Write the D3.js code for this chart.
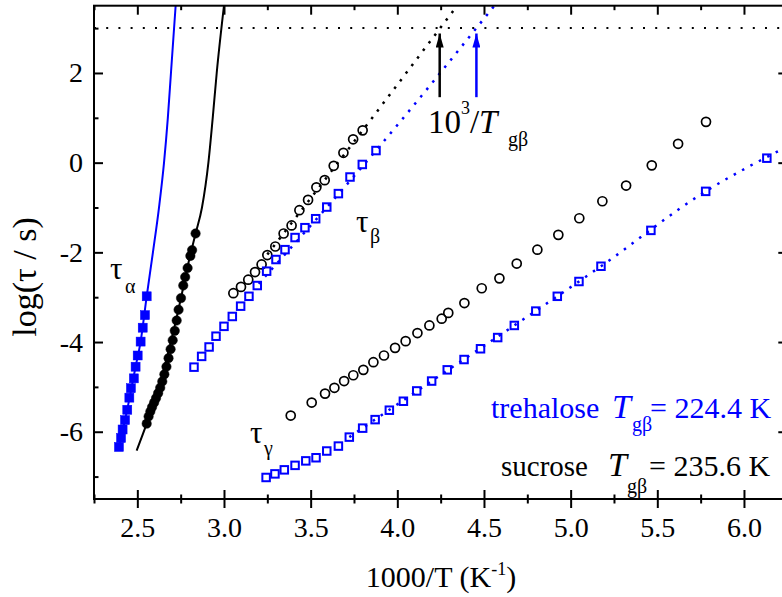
<!DOCTYPE html>
<html>
<head>
<meta charset="utf-8">
<script src="https://cdn.jsdelivr.net/npm/d3@7"></script>
<style>
  body { margin: 0; background: #fff; }
  svg { display: block; }
  text { font-family: "Liberation Serif", "Times New Roman", serif; }
</style>
</head>
<body>
<div id="chart"></div>
<script>
// values: x = 1000/T (K^-1), y = log(tau / s)
var sucAlphaX = [2.836, 2.816, 2.806, 2.790, 2.776, 2.765, 2.752, 2.738, 2.727, 2.716, 2.704, 2.692, 2.680, 2.668, 2.656, 2.644, 2.632, 2.620, 2.608, 2.597, 2.585, 2.575, 2.565, 2.554];
var sucAlphaY = [-1.58, -1.95, -2.08, -2.35, -2.55, -2.74, -3.02, -3.28, -3.52, -3.75, -3.96, -4.16, -4.36, -4.55, -4.72, -4.88, -5.02, -5.14, -5.25, -5.35, -5.45, -5.55, -5.66, -5.82];
var treAlphaX = [2.554, 2.544, 2.531, 2.519, 2.502, 2.490, 2.480, 2.463, 2.454, 2.442, 2.429, 2.415, 2.406, 2.394];
var treAlphaY = [-2.98, -3.40, -3.68, -3.99, -4.30, -4.55, -4.81, -5.03, -5.24, -5.51, -5.74, -5.95, -6.14, -6.34];

var sucBetaX = [3.054, 3.098, 3.140, 3.179, 3.217, 3.250, 3.296, 3.344, 3.390, 3.435, 3.485, 3.533, 3.581, 3.633, 3.689, 3.745, 3.800];
var sucBetaY = [-2.91, -2.77, -2.61, -2.44, -2.27, -2.06, -1.87, -1.58, -1.40, -1.06, -0.83, -0.55, -0.39, -0.07, 0.22, 0.52, 0.72];
var treBetaX = [2.827, 2.871, 2.914, 2.954, 3.000, 3.048, 3.096, 3.144, 3.192, 3.246, 3.300, 3.352, 3.410, 3.467, 3.529, 3.593, 3.660, 3.727, 3.798, 3.877];
var treBetaY = [-4.56, -4.32, -4.11, -3.87, -3.65, -3.43, -3.20, -2.98, -2.74, -2.42, -2.16, -1.94, -1.67, -1.45, -1.25, -0.99, -0.69, -0.32, -0.04, 0.27];

var sucGammaX = [3.385, 3.506, 3.583, 3.637, 3.693, 3.746, 3.804, 3.862, 3.923, 3.987, 4.048, 4.116, 4.185, 4.256, 4.294, 4.387, 4.487, 4.589, 4.689, 4.808, 4.929, 5.050, 5.183, 5.320, 5.468, 5.620, 5.781];
var sucGammaY = [-5.64, -5.35, -5.15, -5.02, -4.87, -4.74, -4.62, -4.45, -4.30, -4.13, -3.98, -3.80, -3.63, -3.48, -3.35, -3.13, -2.80, -2.58, -2.25, -1.94, -1.61, -1.24, -0.86, -0.51, -0.06, 0.42, 0.91];
var treGammaX = [3.243, 3.294, 3.348, 3.410, 3.472, 3.531, 3.593, 3.660, 3.723, 3.800, 3.872, 3.954, 4.035, 4.112, 4.198, 4.288, 4.385, 4.480, 4.579, 4.675, 4.799, 4.923, 5.048, 5.175, 5.463, 5.779, 6.132];
var treGammaY = [-7.02, -6.94, -6.85, -6.75, -6.65, -6.58, -6.43, -6.32, -6.12, -5.92, -5.73, -5.52, -5.32, -5.09, -4.87, -4.62, -4.39, -4.15, -3.90, -3.63, -3.31, -2.98, -2.65, -2.31, -1.51, -0.64, 0.10];

// fit curves
var sucAlphaFitX = [2.496, 2.554, 2.600, 2.650, 2.700, 2.750, 2.800, 2.836, 2.873, 2.910, 2.935, 2.958, 3.000];
var sucAlphaFitY = [-6.42, -5.82, -5.30, -4.65, -3.90, -3.05, -2.15, -1.58, -1.00, 0.00, 1.00, 2.00, 3.50];
var treAlphaFitX = [2.390, 2.442, 2.490, 2.519, 2.554, 2.590, 2.625, 2.654, 2.676, 2.694, 2.721];
var treAlphaFitY = [-6.40, -5.50, -4.55, -3.99, -2.98, -2.00, -1.00, 0.00, 1.00, 2.00, 3.50];
var sucBetaFitX = [3.250, 3.800, 4.345];
var sucBetaFitY = [-2.05, 0.72, 3.50];
var treBetaFitX = [3.200, 3.877, 4.560];
var treBetaFitY = [-2.70, 0.27, 3.50];
var treGammaFitX = [3.723, 4.198, 4.675, 5.175, 5.779, 6.250];
var treGammaFitY = [-6.12, -4.87, -3.63, -2.31, -0.64, 0.36];

var tgSucrose = 235.6, tgTrehalose = 224.4;
var tauLevel = 3;      // log tau = 3 reference line
var arrowFrom = 1.46, arrowTo = 2.88;

var xMajor = [2.5, 3.0, 3.5, 4.0, 4.5, 5.0, 5.5, 6.0];
var xMinor = [2.25, 2.75, 3.25, 3.75, 4.25, 4.75, 5.25, 5.75, 6.25];
var yMajor = [-6, -4, -2, 0, 2];
var yMinor = [-7, -5, -3, -1, 1, 3];

var blue = "#0000ff";
var width = 782, height = 597;
var pL = 94, pR = 787.3, pT = 5.7, pB = 499;

var svg = d3.select("#chart").append("svg")
  .attr("width", width)
  .attr("height", height)
  .attr("viewBox", `0 0 ${width} ${height}`);

var x = d3.scaleLinear().domain([2.25, 6.25]).range([pL, pR]);
var y = d3.scaleLinear().domain([-7.5, 3.5]).range([pB, pT]);

svg.append("clipPath").attr("id", "plot")
  .append("rect").attr("x", pL).attr("y", pT)
  .attr("width", pR - pL).attr("height", pB - pT);

var zip = (a, b) => a.map((v, i) => [v, b[i]]);
var smooth = d3.line().x(d => x(d[0])).y(d => y(d[1])).curve(d3.curveMonotoneX);

var plot = svg.append("g").attr("clip-path", "url(#plot)");

// dotted horizontal line at log tau = 3
plot.append("line")
  .attr("x1", pL).attr("x2", pR)
  .attr("y1", y(tauLevel)).attr("y2", y(tauLevel))
  .attr("stroke", "#000").attr("stroke-width", 2)
  .attr("stroke-dasharray", "2,10.2");

// alpha fits (solid)
plot.append("path").datum(zip(treAlphaFitX, treAlphaFitY))
  .attr("d", smooth).attr("fill", "none").attr("stroke", blue).attr("stroke-width", 2);
plot.append("path").datum(zip(sucAlphaFitX, sucAlphaFitY))
  .attr("d", smooth).attr("fill", "none").attr("stroke", "#000").attr("stroke-width", 2);

// dotted beta / gamma fits
var dotted = [
  [sucBetaFitX, sucBetaFitY, "#000"],
  [treBetaFitX, treBetaFitY, blue],
  [treGammaFitX, treGammaFitY, blue]
];
dotted.forEach(function(f) {
  plot.append("path").datum(zip(f[0], f[1]))
    .attr("d", smooth).attr("fill", "none")
    .attr("stroke", f[2]).attr("stroke-width", 2.5)
    .attr("stroke-dasharray", "2.5,7");
});

// markers
function squares(xs, ys, filled, side) {
  plot.append("g").selectAll("rect")
    .data(zip(xs, ys)).enter().append("rect")
    .attr("x", d => x(d[0]) - side / 2)
    .attr("y", d => y(d[1]) - side / 2)
    .attr("width", side).attr("height", side)
    .attr("fill", filled ? blue : "none")
    .attr("stroke", blue).attr("stroke-width", filled ? 0.5 : 2);
}
function circles(xs, ys, filled, r) {
  plot.append("g").selectAll("circle")
    .data(zip(xs, ys)).enter().append("circle")
    .attr("cx", d => x(d[0])).attr("cy", d => y(d[1]))
    .attr("r", r)
    .attr("fill", filled ? "#000" : "none")
    .attr("stroke", "#000").attr("stroke-width", filled ? 0.5 : 1.7);
}
squares(treAlphaX, treAlphaY, true, 9);
circles(sucAlphaX, sucAlphaY, true, 4.7);
circles(sucBetaX, sucBetaY, false, 4.5);
squares(treBetaX, treBetaY, false, 7.5);
circles(sucGammaX, sucGammaY, false, 4.5);
squares(treGammaX, treGammaY, false, 7.5);

// arrows at 1000/Tg_beta
var defs = svg.append("defs");
[["headK", "#000"], ["headB", blue]].forEach(function(m) {
  defs.append("marker").attr("id", m[0])
    .attr("viewBox", "0 -4 14 8").attr("refX", 14).attr("refY", 0)
    .attr("markerUnits", "userSpaceOnUse")
    .attr("markerWidth", 14).attr("markerHeight", 8).attr("orient", "auto")
    .append("path").attr("d", "M0,-4L14,0L0,4Z").attr("fill", m[1]);
});
[[tgSucrose, "#000", "headK"], [tgTrehalose, blue, "headB"]].forEach(function(a) {
  svg.append("line")
    .attr("x1", x(1000 / a[0])).attr("x2", x(1000 / a[0]))
    .attr("y1", y(arrowFrom)).attr("y2", y(arrowTo))
    .attr("stroke", a[1]).attr("stroke-width", 2.5)
    .attr("marker-end", `url(#${a[2]})`);
});

// frame
svg.append("rect")
  .attr("x", pL).attr("y", pT)
  .attr("width", pR - pL).attr("height", pB - pT)
  .attr("fill", "none").attr("stroke", "#000").attr("stroke-width", 2);

// axes
function styleAxis(g) {
  g.select(".domain").remove();
  g.selectAll(".tick line").attr("stroke-width", 2);
  g.selectAll("text").attr("font-size", 28).attr("fill", "#000")
    .attr("font-family", '"Liberation Serif", "Times New Roman", serif');
}
var gx = svg.append("g").attr("transform", `translate(0,${pB})`)
  .call(d3.axisBottom(x).tickValues(xMajor).tickFormat(d3.format(".1f")).tickSize(9).tickSizeOuter(0))
  .call(styleAxis);
gx.selectAll(".tick line").attr("y1", -9).attr("y2", 9);
gx.selectAll(".tick text").attr("y", 18.5);

var gxm = svg.append("g").attr("transform", `translate(0,${pB})`)
  .call(d3.axisBottom(x).tickValues(xMinor).tickFormat("").tickSize(4.5).tickSizeOuter(0))
  .call(styleAxis);
gxm.selectAll(".tick line").attr("y1", -4.5).attr("y2", 4.5);

svg.append("g").attr("transform", `translate(0,${pT})`)
  .call(d3.axisTop(x).tickValues(xMajor).tickFormat("").tickSize(-9).tickSizeOuter(0))
  .call(styleAxis);
svg.append("g").attr("transform", `translate(0,${pT})`)
  .call(d3.axisTop(x).tickValues(xMinor).tickFormat("").tickSize(-4.5).tickSizeOuter(0))
  .call(styleAxis);

svg.append("g").attr("transform", `translate(${pL},0)`)
  .call(d3.axisLeft(y).tickValues(yMajor).tickFormat(d => String(d)).tickSize(-9).tickPadding(11).tickSizeOuter(0))
  .call(styleAxis);
svg.append("g").attr("transform", `translate(${pL},0)`)
  .call(d3.axisLeft(y).tickValues(yMinor).tickFormat("").tickSize(-4.5).tickSizeOuter(0))
  .call(styleAxis);
svg.append("g").attr("transform", `translate(${pR},0)`)
  .call(d3.axisRight(y).tickValues(yMajor).tickFormat("").tickSize(-9).tickSizeOuter(0))
  .call(styleAxis);
svg.append("g").attr("transform", `translate(${pR},0)`)
  .call(d3.axisRight(y).tickValues(yMinor).tickFormat("").tickSize(-4.5).tickSizeOuter(0))
  .call(styleAxis);

// axis titles
var xt = svg.append("text").attr("x", 441).attr("y", 587)
  .attr("text-anchor", "middle").attr("font-size", 30);
xt.append("tspan").text("1000/T (K");
xt.append("tspan").attr("dy", -12).attr("font-size", 18).text("-1");
xt.append("tspan").attr("dy", 12).text(")");

svg.append("text")
  .attr("transform", "translate(36,277) rotate(-90)")
  .attr("text-anchor", "middle").attr("font-size", 34)
  .text("log(τ / s)");

// annotations
function label(px, py, txt, size, color, italic) {
  return svg.append("text").attr("x", px).attr("y", py)
    .attr("font-size", size).attr("fill", color || "#000")
    .attr("font-style", italic ? "italic" : null)
    .text(txt);
}
label(110, 279, "τ", 31);
label(125, 293, "α", 20);
label(356, 232, "τ", 31);
label(370, 243, "β", 20);
label(250, 443, "τ", 31);
label(264, 455, "γ", 20);

label(428, 133, "10", 33);
label(461, 114, "3", 18);
label(470, 133, "/", 33);
label(479, 133, "T", 33, "#000", true);
label(508, 146, "gβ", 20);

label(491, 418, "trehalose", 30, blue);
label(612, 418, "T", 34, blue, true);
label(632, 431, "gβ", 20, blue);
label(650, 418, "= 224.4 K", 30, blue);

label(501, 476, "sucrose", 29);
label(608, 476, "T", 34, "#000", true);
label(627, 493, "gβ", 20);
label(649, 476, "= 235.6 K", 30);
</script>
</body>
</html>
